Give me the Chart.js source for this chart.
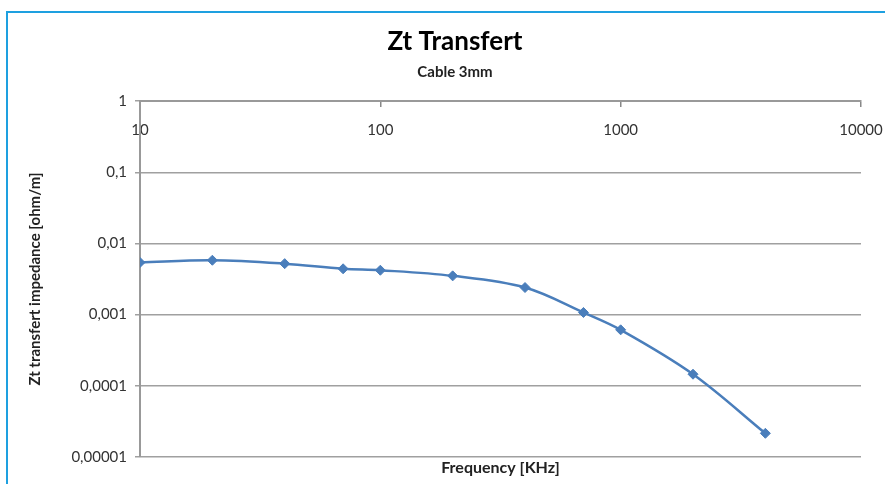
<!DOCTYPE html>
<html>
<head>
<meta charset="utf-8">
<script src="https://cdn.jsdelivr.net/npm/chart.js@4"></script>
<style>
  body { margin: 0; background: #fff; overflow: hidden; }
  #wrap { position: relative; width: 885px; height: 484px; overflow: hidden; }
  #frame { position: absolute; left: 6px; top: 11px; width: 1000px; height: 1000px; border: 2px solid #1ea0e0; }
  #box { position: absolute; left: 0; top: 0; width: 910px; height: 484px; }
</style>
</head>
<body>
<div id="wrap">
  <div id="frame"></div>
  <div id="box"><canvas id="chart"></canvas></div>
</div>
<script>
const freq = [10, 20, 40, 70, 100, 200, 400, 700, 1000, 2000, 4000];
const zt = [0.0054, 0.0058, 0.0052, 0.0044, 0.0042, 0.0035, 0.0024, 0.00107, 0.00061, 0.000145, 0.0000214];
const xTicks = [10, 100, 1000, 10000];
const yTicks = [1, 0.1, 0.01, 0.001, 0.0001, 0.00001];
const yLabels = ['1', '0,1', '0,01', '0,001', '0,0001', '0,00001'];

const points = freq.map((f, i) => ({ x: f, y: zt[i] }));
const font = 'Lato, "Open Sans", sans-serif';

const ctx = document.getElementById('chart').getContext('2d');
const myChart = new Chart(ctx, {
  type: 'line',
  data: {
    datasets: [{
      data: points,
      borderColor: '#4a7ebb',
      backgroundColor: '#4a7ebb',
      borderWidth: 2.5,
      tension: 0.35,
      pointStyle: 'rectRot',
      pointRadius: 5,
      pointBorderWidth: 1,
      fill: false
    }]
  },
  options: {
    responsive: true,
    maintainAspectRatio: false,
    animation: false,
    layout: { padding: { left: 49, right: 49, top: 0, bottom: 7 } },
    plugins: {
      legend: { display: false },
      tooltip: { enabled: false },
      title: {
        display: true,
        text: 'Zt Transfert',
        color: '#000',
        font: { family: font, size: 26, weight: 'bold' },
        padding: { top: 26, bottom: 6 }
      },
      subtitle: {
        display: true,
        text: 'Cable 3mm',
        color: '#222',
        font: { family: font, size: 15, weight: 'bold' },
        padding: { top: 0, bottom: 20 }
      }
    },
    scales: {
      x: {
        type: 'logarithmic',
        min: 10,
        max: 10000,
        position: { y: 1 },
        afterBuildTicks: (axis) => { axis.ticks = xTicks.map(v => ({ value: v })); },
        ticks: {
          color: '#333',
          font: { family: font, size: 15 },
          padding: 15,
          maxRotation: 0,
          callback: (v) => String(v)
        },
        grid: { drawOnChartArea: false, color: '#888', lineWidth: 1.5, tickLength: 5 },
        border: { color: '#999', width: 2 }
      },
      x2: {
        type: 'logarithmic',
        axis: 'x',
        min: 10,
        max: 10000,
        position: 'bottom',
        ticks: { display: false },
        grid: { display: false },
        border: { display: false },
        title: {
          display: true,
          text: 'Frequency [KHz]',
          color: '#222',
          font: { family: font, size: 16, weight: 'bold' },
          padding: { top: -7, bottom: 0 }
        }
      },
      y: {
        type: 'logarithmic',
        min: 0.00001,
        max: 1,
        afterBuildTicks: (axis) => { axis.ticks = yTicks.map(v => ({ value: v })); },
        afterFit: (axis) => { axis.width = 91; },
        ticks: {
          color: '#333',
          font: { family: font, size: 15 },
          padding: 8,
          callback: (v) => yLabels[yTicks.findIndex(t => Math.abs(Math.log10(t) - Math.log10(v)) < 1e-6)]
        },
        grid: { color: '#a0a0a0', lineWidth: 1.5, tickLength: 5 },
        border: { color: '#999', width: 2 },
        title: {
          display: true,
          text: 'Zt transfert impedance [ohm/m]',
          color: '#222',
          font: { family: font, size: 15, weight: 'bold' },
          padding: { top: -23, bottom: 0 }
        }
      }
    }
  }
});
</script>
</body>
</html>
